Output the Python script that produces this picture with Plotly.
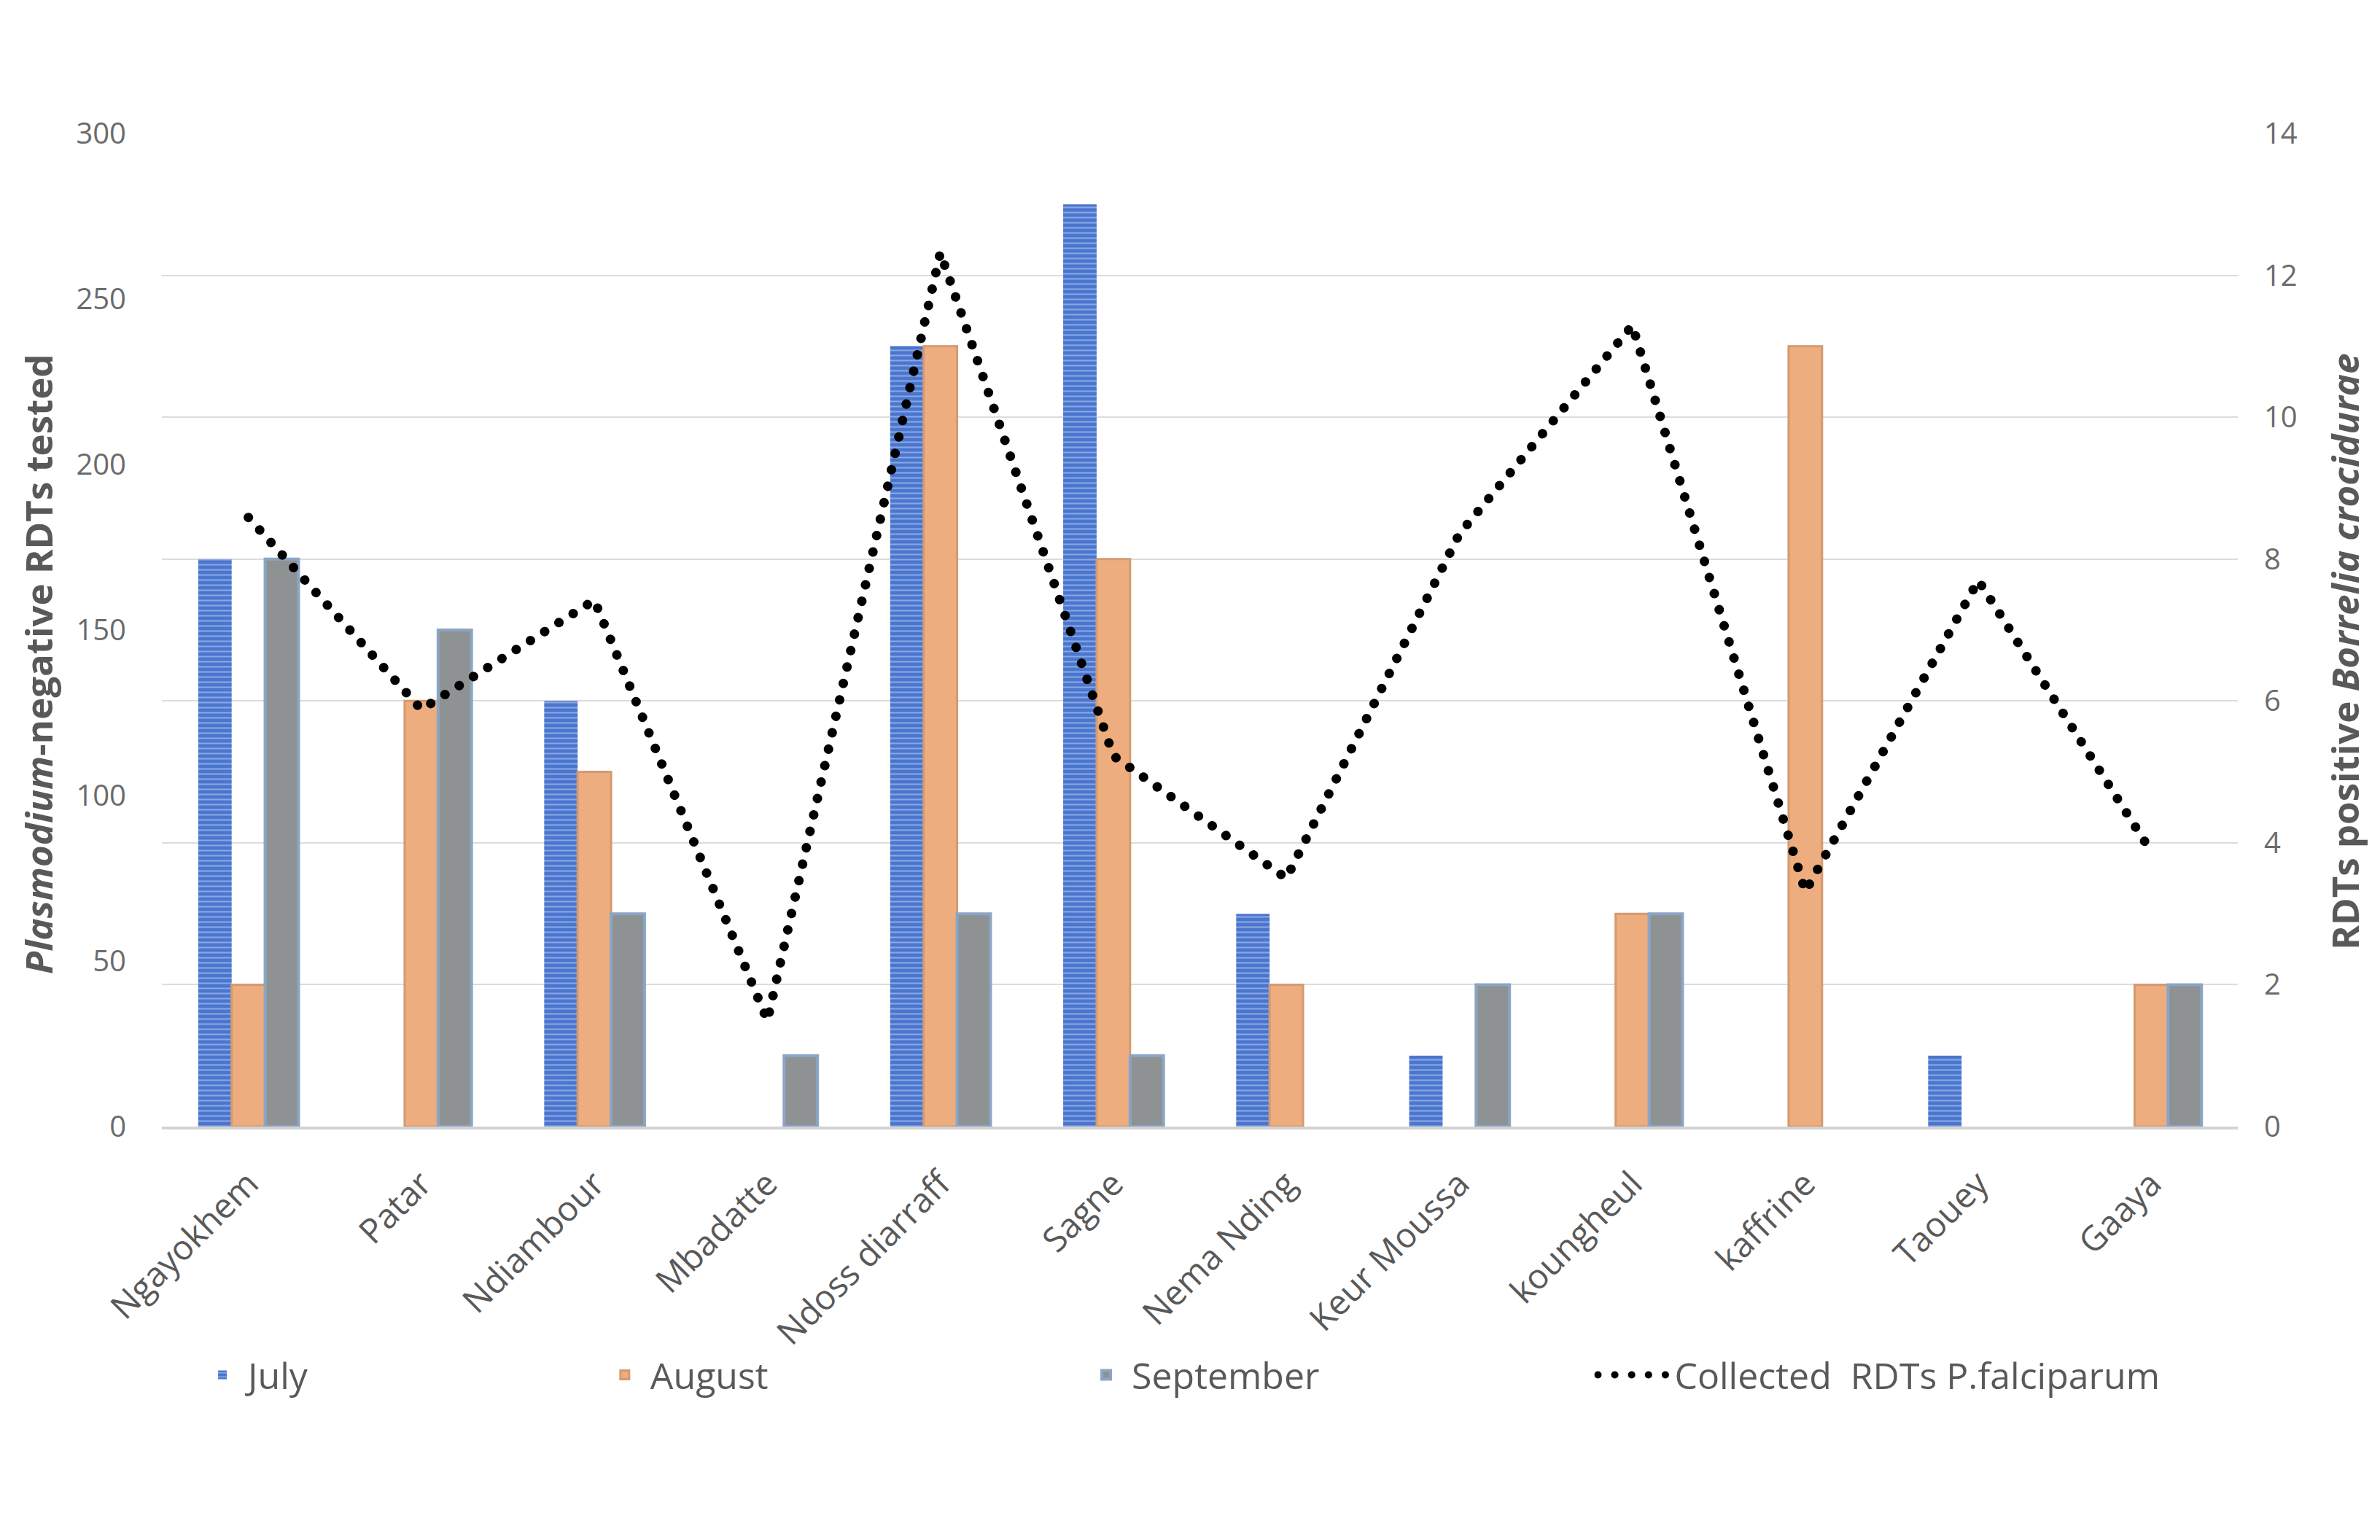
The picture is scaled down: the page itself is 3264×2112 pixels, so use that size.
import plotly.graph_objects as go

categories = ["Ngayokhem", "Patar", "Ndiambour", "Mbadatte", "Ndoss diarraff", "Sagne",
              "Nema Nding", "Keur Moussa", "koungheul", "kaffrine", "Taouey", "Gaaya"]
july = [8, 0, 6, 0, 11, 13, 3, 1, 0, 0, 1, 0]
august = [2, 6, 5, 0, 11, 8, 2, 0, 3, 11, 0, 2]
september = [8, 7, 3, 1, 3, 1, 0, 2, 3, 0, 0, 2]
collected = [184, 126, 159, 32, 264, 112, 75, 179, 242, 71, 165, 83]

left_ticks = [0, 50, 100, 150, 200, 250, 300]
right_ticks = [0, 2, 4, 6, 8, 10, 12, 14]

FONT = "Open Sans"
TXT = "#595959"


def nz(vals):
    return [v if v else None for v in vals]


fig = go.Figure()
fig.add_trace(go.Bar(
    x=categories, y=nz(july), name="July", yaxis="y", legend="legend2",
    marker=dict(color="#4A76CF",
                pattern=dict(shape="-", fgcolor="#C9D7F3", bgcolor="#4A76CF",
                             size=7, solidity=0.3),
                line=dict(width=0)),
))
fig.add_trace(go.Bar(
    x=categories, y=nz(august), name="August", yaxis="y", legend="legend3",
    marker=dict(color="#EEAD7F", line=dict(color="#D49A70", width=3)),
))
fig.add_trace(go.Bar(
    x=categories, y=nz(september), name="September", yaxis="y", legend="legend4",
    marker=dict(color="#8F9293", line=dict(color="#8AA5C6", width=4)),
))
fig.add_trace(go.Scatter(
    x=categories, y=collected, name="Collected  RDTs P.falciparum", yaxis="y2",
    legend="legend5",
    mode="lines", line=dict(color="black", width=13, dash="0.1px,23px"),
))

legend_common = dict(orientation="h", y=-0.25, xanchor="left", yanchor="middle",
                     font=dict(size=50, color=TXT, family=FONT),
                     bgcolor="rgba(0,0,0,0)", visible=True)

fig.update_layout(
    width=3264, height=2112, autosize=False,
    margin=dict(l=214, r=203, t=175, b=575),
    paper_bgcolor="white", plot_bgcolor="white",
    barmode="group", bargap=0.42, bargroupgap=0,
    font=dict(family=FONT, color=TXT, size=40),
    showlegend=True,
    xaxis=dict(
        type="category", tickangle=-45, showgrid=False,
        showline=True, linecolor="#D3D3D3", linewidth=4,
        ticks="outside", ticklen=28, tickcolor="rgba(0,0,0,0)",
        tickfont=dict(size=47, color=TXT, family=FONT),
        zeroline=False,
    ),
    yaxis=dict(
        range=[0, 14], tickvals=right_ticks, side="right",
        showgrid=True, gridcolor="#DCDCDC", gridwidth=2, zeroline=False,
        ticks="outside", ticklen=27, tickcolor="rgba(0,0,0,0)",
        tickfont=dict(size=40, color="#6B6B6B", family=FONT),
    ),
    yaxis2=dict(
        range=[0, 300], tickvals=left_ticks, overlaying="y", side="left",
        showgrid=False, zeroline=False,
        ticks="outside", ticklen=40, tickcolor="rgba(0,0,0,0)",
        tickfont=dict(size=40, color="#6B6B6B", family=FONT),
    ),
    legend2=dict(x=0.0169, itemwidth=60, **legend_common),
    legend3=dict(x=0.2107, itemwidth=60, **legend_common),
    legend4=dict(x=0.4426, itemwidth=60, **legend_common),
    legend5=dict(x=0.6900, itemwidth=100, **legend_common),
    annotations=[
        dict(text="<b><i>Plasmodium</i>-negative RDTs tested</b>", xref="paper", yref="paper",
             x=-0.0595, y=0.466, xanchor="center", yanchor="middle", textangle=-90,
             showarrow=False, font=dict(size=51, color=TXT, family=FONT)),
        dict(text="<b>RDTs positive <i>Borrelia crocidurae</i></b>", xref="paper", yref="paper",
             x=1.0512, y=0.478, xanchor="center", yanchor="middle", textangle=-90,
             showarrow=False, font=dict(size=51, color=TXT, family=FONT)),
    ],
)

post = ("document.querySelectorAll('path.js-line').forEach(function(p){"
        "p.style.strokeLinecap='round';});")
fig.write_html("out.html", post_script=post)
